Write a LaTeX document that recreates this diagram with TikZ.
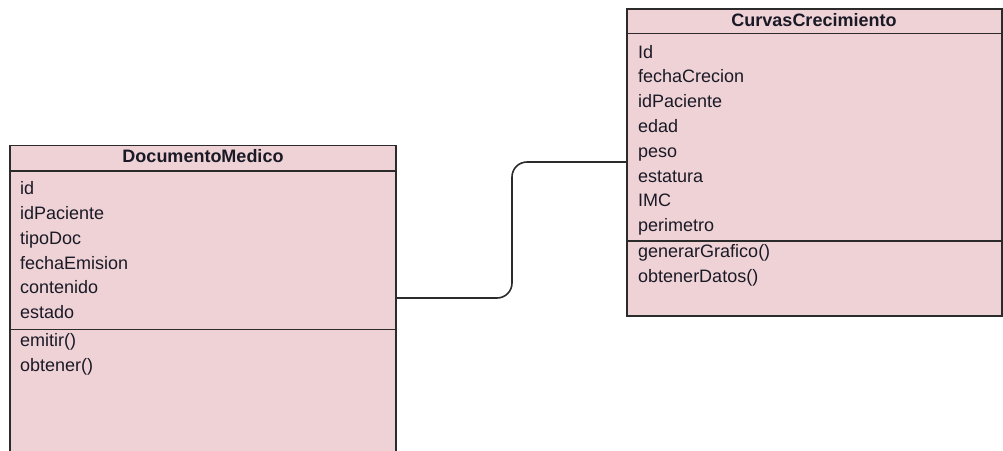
\documentclass[tikz,border=0pt]{standalone}
\usepackage{fontspec}
\setmainfont{Liberation Sans}
\definecolor{classfill}{HTML}{EFD2D6}
\definecolor{classline}{HTML}{2B2B2B}
\definecolor{classtext}{HTML}{1A1A26}
\tikzset{
  classbox/.style={draw=classline, line width=1.8pt, fill=classfill, inner sep=0pt, outer sep=0pt},
  divider/.style={draw=classline, line width=1.6pt},
  member/.style={anchor=base west, inner sep=0pt, text=classtext, font=\fontsize{18}{21}\selectfont},
  title/.style={anchor=base, inner sep=0pt, text=classtext, font=\fontsize{18}{21}\selectfont\bfseries},
  link/.style={draw=classline, line width=1.6pt, rounded corners=15pt},
}
\begin{document}
\begin{tikzpicture}[x=1pt, y=-1pt]
\useasboundingbox (0,0) rectangle (1003,450);

% DocumentoMedico class (runs past the lower edge)
\node[classbox, minimum width=386pt, minimum height=320pt, anchor=north west] (doc) at (10,145.5) {};
\draw[divider] (10,171) -- (396,171);
\draw[divider] (10,329.5) -- (396,329.5);
\node[title] (docname) at (203,162.5) {DocumentoMedico};
\node[member] (d1) at (20,194) {id};
\node[member] (d2) at (20,219) {idPaciente};
\node[member] (d3) at (20,244) {tipoDoc};
\node[member] (d4) at (20,269) {fechaEmision};
\node[member] (d5) at (20,293.7) {contenido};
\node[member] (d6) at (20,318.5) {estado};
\node[member] (d7) at (20,346.5) {emitir()};
\node[member] (d8) at (20,371) {obtener()};

% CurvasCrecimiento class
\node[classbox, minimum width=375pt, minimum height=307pt, anchor=north west] (curv) at (627.3,9) {};
\draw[divider] (627.3,33.3) -- (1002.3,33.3);
\draw[divider] (627.3,241) -- (1002.3,241);
\node[title] (curvname) at (814,26) {CurvasCrecimiento};
\node[member] (c1) at (638,58) {Id};
\node[member] (c2) at (638,82.7) {fechaCrecion};
\node[member] (c3) at (638,107.5) {idPaciente};
\node[member] (c4) at (638,132.3) {edad};
\node[member] (c5) at (638,157.2) {peso};
\node[member] (c6) at (638,182) {estatura};
\node[member] (c7) at (638,206.8) {IMC};
\node[member] (c8) at (638,231.7) {perimetro};
\node[member] (c9) at (638,257) {generarGrafico()};
\node[member] (c10) at (638,282) {obtenerDatos()};

% association between the two classes
\coordinate (docport) at (doc.east |- 0,298);
\coordinate (curvport) at (curv.west |- 0,162);
\draw[link] (docport) -- (512,298) -- (512,162) -- (curvport);
\end{tikzpicture}
\end{document}
